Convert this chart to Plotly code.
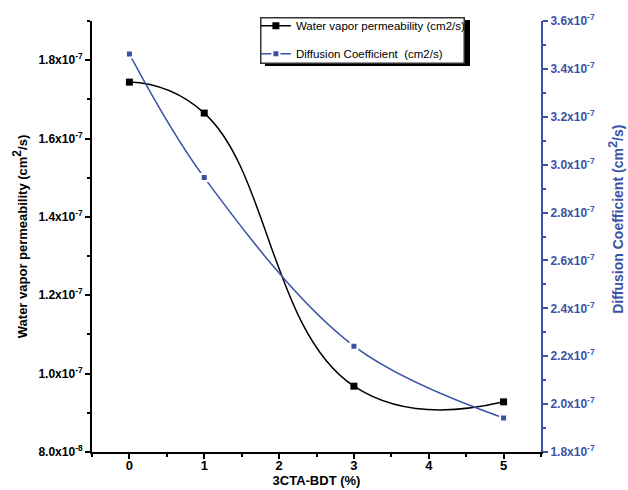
import plotly.graph_objects as go

# Additive content (%)
cta_bdt = [0, 1, 3, 5]
# Water vapor permeability (cm2/s)
permeability = [1.744e-7, 1.665e-7, 0.968e-7, 0.928e-7]
# Diffusion coefficient (cm2/s)
diffusion = [3.462e-7, 2.946e-7, 2.242e-7, 1.942e-7]

left_ticks = [0.8e-7, 1.0e-7, 1.2e-7, 1.4e-7, 1.6e-7, 1.8e-7]
left_ticktext = ["8.0x10<sup>-8</sup>", "1.0x10<sup>-7</sup>", "1.2x10<sup>-7</sup>",
                 "1.4x10<sup>-7</sup>", "1.6x10<sup>-7</sup>", "1.8x10<sup>-7</sup>"]
right_ticks = [1.8e-7, 2.0e-7, 2.2e-7, 2.4e-7, 2.6e-7, 2.8e-7, 3.0e-7, 3.2e-7, 3.4e-7, 3.6e-7]
right_ticktext = ["1.8x10<sup>-7</sup>", "2.0x10<sup>-7</sup>", "2.2x10<sup>-7</sup>",
                  "2.4x10<sup>-7</sup>", "2.6x10<sup>-7</sup>", "2.8x10<sup>-7</sup>",
                  "3.0x10<sup>-7</sup>", "3.2x10<sup>-7</sup>", "3.4x10<sup>-7</sup>",
                  "3.6x10<sup>-7</sup>"]

BLUE = "#3a52a6"
FONT = "Liberation Sans, Arial, sans-serif"

fig = go.Figure()
fig.add_trace(go.Scatter(
    x=cta_bdt, y=permeability, name="Water vapor permeability (cm2/s)",
    mode="lines+markers", line=dict(color="black", width=1.5, shape="spline", smoothing=1.3),
    marker=dict(symbol="square", size=7, color="black"),
    legendgroup="a", yaxis="y",
))
fig.add_trace(go.Scatter(
    x=cta_bdt, y=diffusion, name="Diffusion Coefficient  (cm2/s)",
    mode="lines+markers", line=dict(color=BLUE, width=1.5, shape="spline", smoothing=1.0),
    marker=dict(symbol="square", size=7, color=BLUE, line=dict(color="white", width=2)),
    legendgroup="b", yaxis="y2",
))

# framed legend panel with a drop shadow (paper coordinates)
legend_box = dict(x0=0.3742, x1=0.8307, y0=0.9005, y1=1.0093)
shadow_box = dict(x0=0.3853, x1=0.8419, y0=0.8958, y1=1.0023)
px_x, px_y = 1.5 / 449, 1.5 / 432
inner_box = dict(x0=legend_box["x0"] + px_x, x1=legend_box["x1"] - px_x,
                 y0=legend_box["y0"] + px_y, y1=legend_box["y1"] - px_y)

fig.update_layout(
    width=628, height=490,
    margin=dict(l=92, r=87, t=20, b=38),
    paper_bgcolor="white", plot_bgcolor="white",
    font=dict(family=FONT, size=12, color="black"),
    showlegend=True,
    legend=dict(x=0.365, y=1.02, xanchor="left", yanchor="top",
                bgcolor="rgba(0,0,0,0)", borderwidth=0,
                itemwidth=30,
                font=dict(size=11.5, color="black"), tracegroupgap=9),
    xaxis=dict(
        range=[-0.5, 5.5], tickvals=[0, 1, 2, 3, 4, 5], automargin=False,
        ticks="outside", ticklen=5, tickwidth=1.5, tickcolor="black",
        ticklabelstandoff=-5,
        minor=dict(dtick=0.5, tick0=0, ticks="outside", ticklen=3, tickwidth=1.5, tickcolor="black"),
        showline=True, linecolor="black", linewidth=2, showgrid=False, zeroline=False,
        tickfont=dict(size=13, color="black", family=FONT, weight="bold"),
        title=dict(text="<b>3CTA-BDT (%)</b>", font=dict(size=13), standoff=0),
    ),
    yaxis=dict(
        range=[0.8e-7, 1.9e-7], tickvals=left_ticks, ticktext=left_ticktext, automargin=False,
        ticks="outside", ticklen=5, tickwidth=1.5, tickcolor="black",
        minor=dict(dtick=0.1e-7, tick0=0.8e-7, ticks="outside", ticklen=3, tickwidth=1.5, tickcolor="black"),
        showline=True, linecolor="black", linewidth=2, showgrid=False, zeroline=False,
        tickfont=dict(size=12, color="black", family=FONT, weight="bold"),
        title=dict(text="<b>Water vapor permeability (cm<sup><span style='font-size:12px'>2</span></sup>/s)</b>",
                   font=dict(size=13), standoff=8),
    ),
    yaxis2=dict(
        range=[1.8e-7, 3.6e-7], tickvals=right_ticks, ticktext=right_ticktext,
        overlaying="y", side="right", anchor="x", automargin=False,
        ticks="outside", ticklen=5, tickwidth=1.5, tickcolor=BLUE,
        minor=dict(dtick=0.1e-7, tick0=1.8e-7, ticks="outside", ticklen=3, tickwidth=1.5, tickcolor=BLUE),
        showline=True, linecolor=BLUE, linewidth=2, showgrid=False, zeroline=False,
        tickfont=dict(size=12, color=BLUE, family=FONT, weight="bold"),
    ),
    annotations=[dict(
        text="<b>Diffusion Coefficient (cm<sup><span style='font-size:13px'>2</span></sup>/s)</b>",
        xref="paper", yref="paper", x=1.166, y=0.54, xanchor="center", yanchor="middle",
        textangle=-90, showarrow=False, font=dict(size=14, color=BLUE, family=FONT),
    )],
    shapes=[
        dict(type="rect", xref="paper", yref="paper", **shadow_box,
             fillcolor="black", line=dict(width=0), layer="above"),
        dict(type="rect", xref="paper", yref="paper", **legend_box,
             fillcolor="#333333", line=dict(width=0), layer="above"),
        dict(type="rect", xref="paper", yref="paper", **inner_box,
             fillcolor="white", line=dict(width=0), layer="above"),
    ],
)

fig.write_html("out.html")
